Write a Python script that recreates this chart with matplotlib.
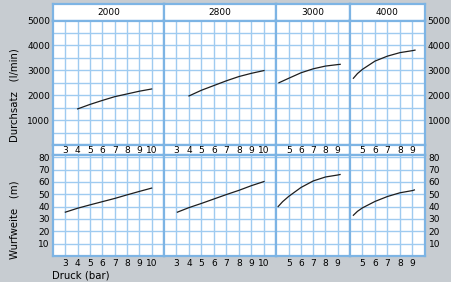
import matplotlib.pyplot as plt

# Pumpenkennlinien bei verschiedenen Drehzahlen
titles = ["2000", "2800", "3000", "4000"]

# Durchsatz (l/min) ueber Druck (bar)
druck_q_2000 = [4, 5, 6, 7, 8, 9, 10]
q_2000 = [1450, 1630, 1790, 1940, 2050, 2160, 2250]
druck_q_2800 = [4, 5, 6, 7, 8, 9, 10]
q_2800 = [1970, 2200, 2390, 2580, 2750, 2880, 2990]
druck_q_3000 = [4.2, 5, 6, 7, 8, 9, 9.2]
q_3000 = [2500, 2680, 2900, 3060, 3170, 3230, 3240]
druck_q_4000 = [4.27, 4.6, 5, 6, 7, 8, 9, 9.2]
q_4000 = [2680, 2870, 3040, 3370, 3570, 3710, 3790, 3810]

# Wurfweite (m) ueber Druck (bar)
druck_w_2000 = [3, 4, 5, 6, 7, 8, 9, 10]
w_2000 = [35.5, 38.7, 41.4, 44, 46.6, 49.5, 52.3, 55]
druck_w_2800 = [3.07, 4, 5, 6, 7, 8, 9, 10]
w_2800 = [35.5, 39.2, 42.6, 46.2, 49.8, 53.2, 57, 60.3]
druck_w_3000 = [4.13, 4.5, 5, 6, 7, 8, 9, 9.19]
w_3000 = [40, 44, 48.3, 55.5, 60.8, 64, 65.6, 66]
druck_w_4000 = [4.27, 4.6, 5, 6, 7, 8, 9, 9.15]
w_4000 = [33, 36.2, 39, 44.2, 48.2, 51.2, 53, 53.5]

druck_ticks_wide = [3, 4, 5, 6, 7, 8, 9, 10]
druck_ticks_narrow = [5, 6, 7, 8, 9]
q_ticks = [1000, 2000, 3000, 4000, 5000]
w_ticks = [10, 20, 30, 40, 50, 60, 70, 80]

top_data = [(druck_q_2000, q_2000), (druck_q_2800, q_2800),
            (druck_q_3000, q_3000), (druck_q_4000, q_4000)]
bot_data = [(druck_w_2000, w_2000), (druck_w_2800, w_2800),
            (druck_w_3000, w_3000), (druck_w_4000, w_4000)]
xlims = [(2, 11), (2, 11), (4, 10), (4, 10)]
xticks = [druck_ticks_wide, druck_ticks_wide, druck_ticks_narrow, druck_ticks_narrow]

W, H = 452, 282
BG = "#c7ccd1"
BORDER = "#7db4e4"
GRID = "#9fcbf0"
FS = 6.5

fig = plt.figure(figsize=(W / 100, H / 100), dpi=100, facecolor=BG)


def rect(x0, y0, x1, y1):
    return [x0 / W, 1 - y1 / H, (x1 - x0) / W, (y1 - y0) / H]


def frame(ax):
    ax.set_facecolor("white")
    for s in ax.spines.values():
        s.set_color(BORDER)
        s.set_linewidth(1.6)
    ax.tick_params(length=0, labelsize=FS)


xedges = [53, 164, 276.5, 350, 425]

for i in range(4):
    x0, x1 = xedges[i], xedges[i + 1]

    # header with speed
    hd = fig.add_axes(rect(x0, 4, x1, 20.5))
    frame(hd)
    hd.set_xticks([])
    hd.set_yticks([])
    hd.text(0.5, 0.5, titles[i], ha="center", va="center", fontsize=FS,
            transform=hd.transAxes)

    # Durchsatz
    ax = fig.add_axes(rect(x0, 20.5, x1, 145))
    frame(ax)
    ax.set_xlim(*xlims[i])
    ax.set_ylim(0, 5000)
    ax.set_xticks(xticks[i])
    ax.set_xticklabels([])
    ax.set_yticks(q_ticks)
    ax.set_yticks(range(500, 5000, 1000), minor=True)
    ax.tick_params(which="minor", length=0)
    ax.grid(True, which="both", color=GRID, linewidth=1.0)
    ax.set_axisbelow(True)
    ax.tick_params(labelleft=(i == 0), labelright=(i == 3), pad=2)
    ax.plot(top_data[i][0], top_data[i][1], color="#1e1e1e", linewidth=0.9)

    # strip with pressure labels
    st = fig.add_axes(rect(x0, 145, x1, 155))
    frame(st)
    st.set_xlim(*xlims[i])
    st.set_yticks([])
    st.set_xticks([])
    for t in xticks[i]:
        st.text(t, 0.45, str(t), ha="center", va="center", fontsize=FS,
                transform=st.get_xaxis_transform())

    # Wurfweite
    bx = fig.add_axes(rect(x0, 155, x1, 256))
    frame(bx)
    bx.set_xlim(*xlims[i])
    bx.set_ylim(0, 81.8)
    bx.set_xticks(xticks[i])
    bx.set_yticks(w_ticks)
    bx.grid(True, color=GRID, linewidth=1.0)
    bx.set_axisbelow(True)
    bx.tick_params(labelleft=(i == 0), labelright=(i == 3), pad=2.5)
    bx.plot(bot_data[i][0], bot_data[i][1], color="#1e1e1e", linewidth=0.9)

fig.text(15 / W, 1 - 95 / H, "Durchsatz   (l/min)", rotation=90,
         ha="center", va="center", fontsize=7.3)
fig.text(15 / W, 1 - 220 / H, "Wurfweite   (m)", rotation=90,
         ha="center", va="center", fontsize=7.3)
fig.text(52 / W, 1 - 275 / H, "Druck (bar)", ha="left", va="center",
         fontsize=7.3)

fig.savefig("out.png", dpi=100, facecolor=BG)
